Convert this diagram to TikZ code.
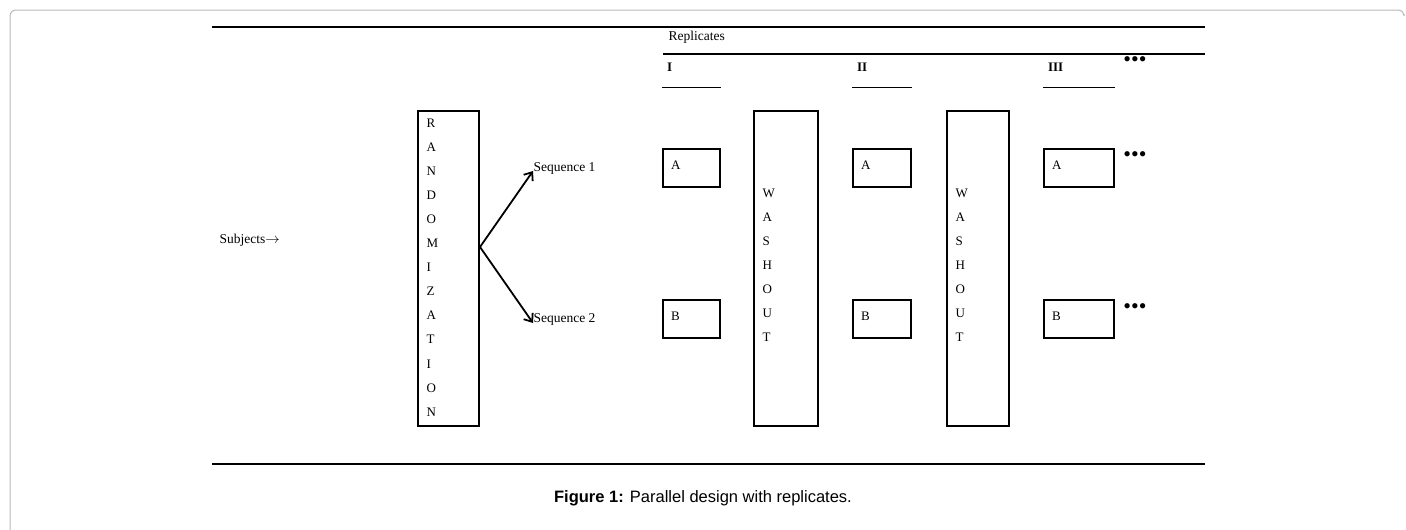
\documentclass[tikz,border=0pt]{standalone}
\usepackage{fontspec}
\setmainfont{Liberation Serif}
\newfontfamily\capfont{Liberation Sans}
\usetikzlibrary{arrows.meta}

\begin{document}
\begin{tikzpicture}[x=1pt,y=-1pt,line width=1.1pt,
    box/.style={draw,rectangle,inner sep=0pt,minimum height=38pt},
    tall box/.style={draw,rectangle,inner sep=0pt,minimum height=315pt},
    letter/.style={anchor=west,inner sep=0pt,font=\fontsize{13}{15}\selectfont},
    numeral/.style={letter,font=\fontsize{13}{15}\selectfont\bfseries},
    main text/.style={anchor=west,inner sep=0pt,font=\fontsize{13.5}{16}\selectfont},
    dots/.style={inner sep=0pt,font=\fontsize{22}{24}\selectfont},
    split arrow/.style={-{Straight Barb[length=7pt,width=11pt]},line width=1.8pt}]

    \useasboundingbox (0,0) rectangle (1406,530);
    % page frame
    \draw[gray!55,line width=1pt,rounded corners=6pt] (10,531) -- (10,10) -- (1404,10) -- (1404,14);

    % rules
    \draw (212,27) -- (1205,27);
    \draw (663,54) -- (1205,54);
    \draw (212,464) -- (1205,464);
    \coordinate (short) at (0,87);

    \node[main text] (subj) at (219,240) {Subjects\(\rightarrow\)};
    \node[main text] (repl) at (668,37) {Replicates};

    % randomization
    \node[tall box, minimum width=61pt] (rand) at (448.5,268.5) {};
    \foreach \l [count=\i] in {R,A,N,D,O,M,I,Z,A,T,I,O,N}
        \node[letter] (rand\i) at (426,{123+24.08*(\i-1)}) {\l};

    \node[main text] (seq1) at (533,168) {Sequence 1};
    \node[main text] (seq2) at (533,319) {Sequence 2};
    \coordinate (split) at (480,247);
    \draw[split arrow] (split) -- ([yshift=-3pt]seq1.west);
    \draw[split arrow] (split) -- ([yshift=-4pt]seq2.west);

    % replicates
    \foreach \n/\x/\w/\r in {1/691.5/57/I, 2/882/58/II, 3/1079/70/III} {
        \node[box, minimum width=\w pt] (a\n) at (\x,168) {};
        \node[box, minimum width=\w pt] (b\n) at (\x,319) {};
        \node[letter] (alab\n) at ([shift={(8,-3)}]a\n.west) {A};
        \node[letter] (blab\n) at ([shift={(8,-3)}]b\n.west) {B};
        \node[numeral] (rep\n) at ([xshift=4pt]a\n.west |- 0,67) {\r};
        \draw[line width=1pt] (a\n.west |- short) -- (a\n.east |- short);
    }

    % washout
    \foreach \n/\x/\w in {1/786/64, 2/978/62} {
        \node[tall box, minimum width=\w pt] (wash\n) at (\x,268.5) {};
        \foreach \l [count=\i] in {W,A,S,H,O,U,T}
            \node[letter] (wash\n-\i) at ({\x-\w/2+8},{193+24*(\i-1)}) {\l};
    }

    \node[dots] (dots0) at (1135,62) {•••};
    \node[dots] (dots1) at (1135,157) {•••};
    \node[dots] (dots2) at (1135,309) {•••};

    \node[font=\capfont\fontsize{16.5}{19}\selectfont] (caption) at (703,498) {\textbf{Figure 1:} Parallel design with replicates.};
\end{tikzpicture}
\end{document}
